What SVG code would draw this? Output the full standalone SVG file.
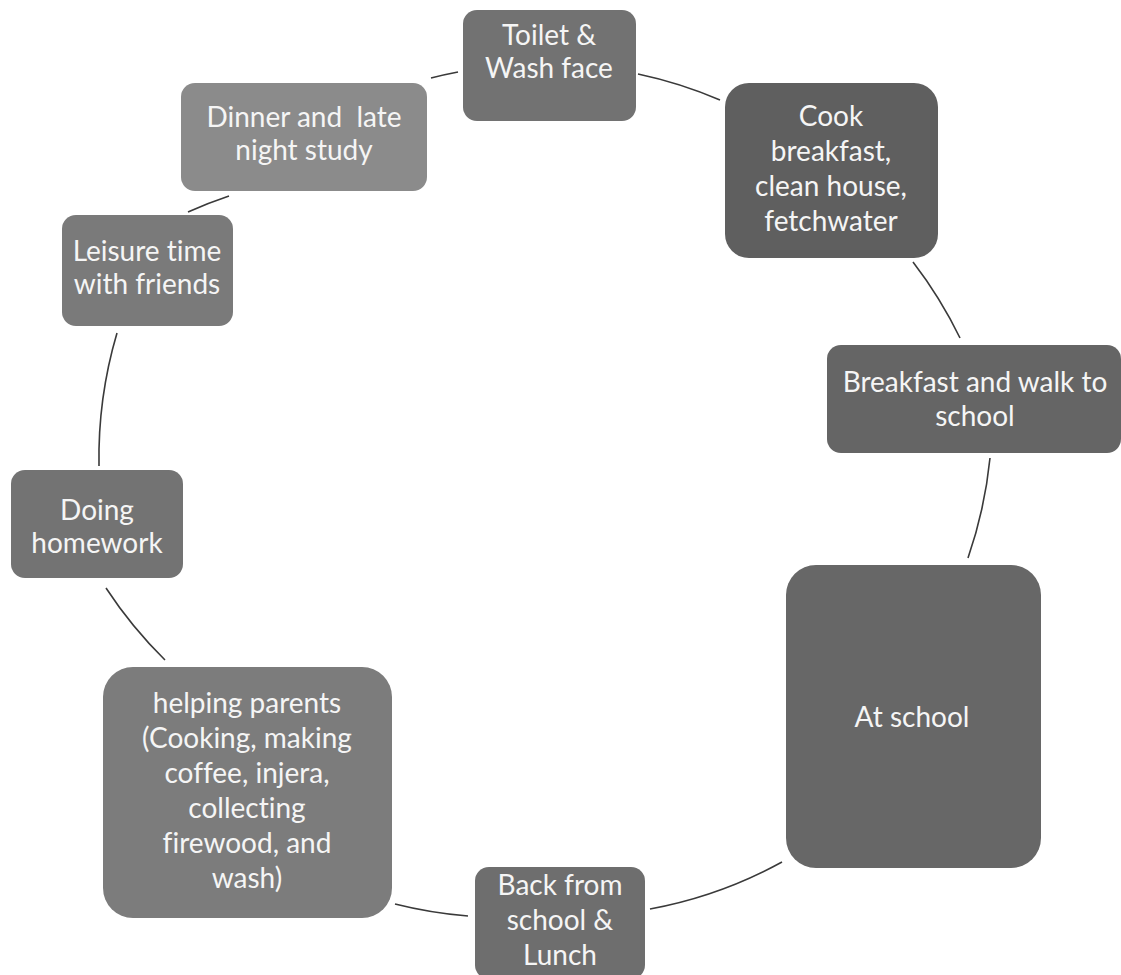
<svg xmlns="http://www.w3.org/2000/svg" width="1121" height="975" viewBox="0 0 1121 975">
<style>
.n text{font-family:Lato,"Open Sans","DejaVu Sans",sans-serif;font-size:28px;fill:#f5f5f5;text-anchor:middle;font-variant-ligatures:none}
.c path{fill:none;stroke:#3a3a3a;stroke-width:1.6}
</style>
<rect width="1121" height="975" fill="#ffffff"/>
<g class="c" id="connectors">
<path d="M638,74 A440,440 0 0 1 720,100"/>
<path d="M913,262 A440,440 0 0 1 960,338"/>
<path d="M990,458 A440,440 0 0 1 968,558"/>
<path d="M782,862 A440,440 0 0 1 650,909"/>
<path d="M468,916 A440,440 0 0 1 395,904"/>
<path d="M165,660 A440,440 0 0 1 106,588"/>
<path d="M99,466 A440,440 0 0 1 117,333"/>
<path d="M188,212 A440,440 0 0 1 229,196"/>
<path d="M431,78 A440,440 0 0 1 458,72"/>
</g>
<g class="n" id="toilet">
<rect x="463" y="10" width="173" height="111" rx="14" fill="#727272"/>
<text x="549" y="45">Toilet &amp;</text>
<text x="549" y="78">Wash face</text>
</g>
<g class="n" id="cook">
<rect x="725" y="83" width="213" height="175" rx="24" fill="#5f5f5f"/>
<text x="831" y="126">Cook</text>
<text x="831" y="161">breakfast,</text>
<text x="831" y="196">clean house,</text>
<text x="831" y="231">fetchwater</text>
</g>
<g class="n" id="breakfast">
<rect x="827" y="345" width="294" height="108" rx="14" fill="#656565"/>
<text x="975" y="392">Breakfast and walk to</text>
<text x="975" y="426">school</text>
</g>
<g class="n" id="atschool">
<rect x="786" y="565" width="255" height="303" rx="30" fill="#676767"/>
<text x="912" y="727">At school</text>
</g>
<g class="n" id="back">
<rect x="475" y="867" width="170" height="112" rx="14" fill="#6e6e6e"/>
<text x="560" y="895">Back from</text>
<text x="560" y="930">school &amp;</text>
<text x="560" y="965">Lunch</text>
</g>
<g class="n" id="helping">
<rect x="103" y="667" width="289" height="251" rx="30" fill="#7c7c7c"/>
<text x="247" y="713">helping parents</text>
<text x="247" y="748">(Cooking, making</text>
<text x="247" y="783">coffee, injera,</text>
<text x="247" y="818">collecting</text>
<text x="247" y="853">firewood, and</text>
<text x="247" y="888">wash)</text>
</g>
<g class="n" id="homework">
<rect x="11" y="470" width="172" height="108" rx="14" fill="#737373"/>
<text x="97" y="520">Doing</text>
<text x="97" y="553">homework</text>
</g>
<g class="n" id="leisure">
<rect x="62" y="215" width="171" height="111" rx="14" fill="#7a7a7a"/>
<text x="147" y="261">Leisure time</text>
<text x="147" y="294">with friends</text>
</g>
<g class="n" id="dinner">
<rect x="181" y="83" width="246" height="108" rx="14" fill="#8b8b8b"/>
<text x="304" y="127" xml:space="preserve">Dinner and  late</text>
<text x="304" y="160">night study</text>
</g>
</svg>
